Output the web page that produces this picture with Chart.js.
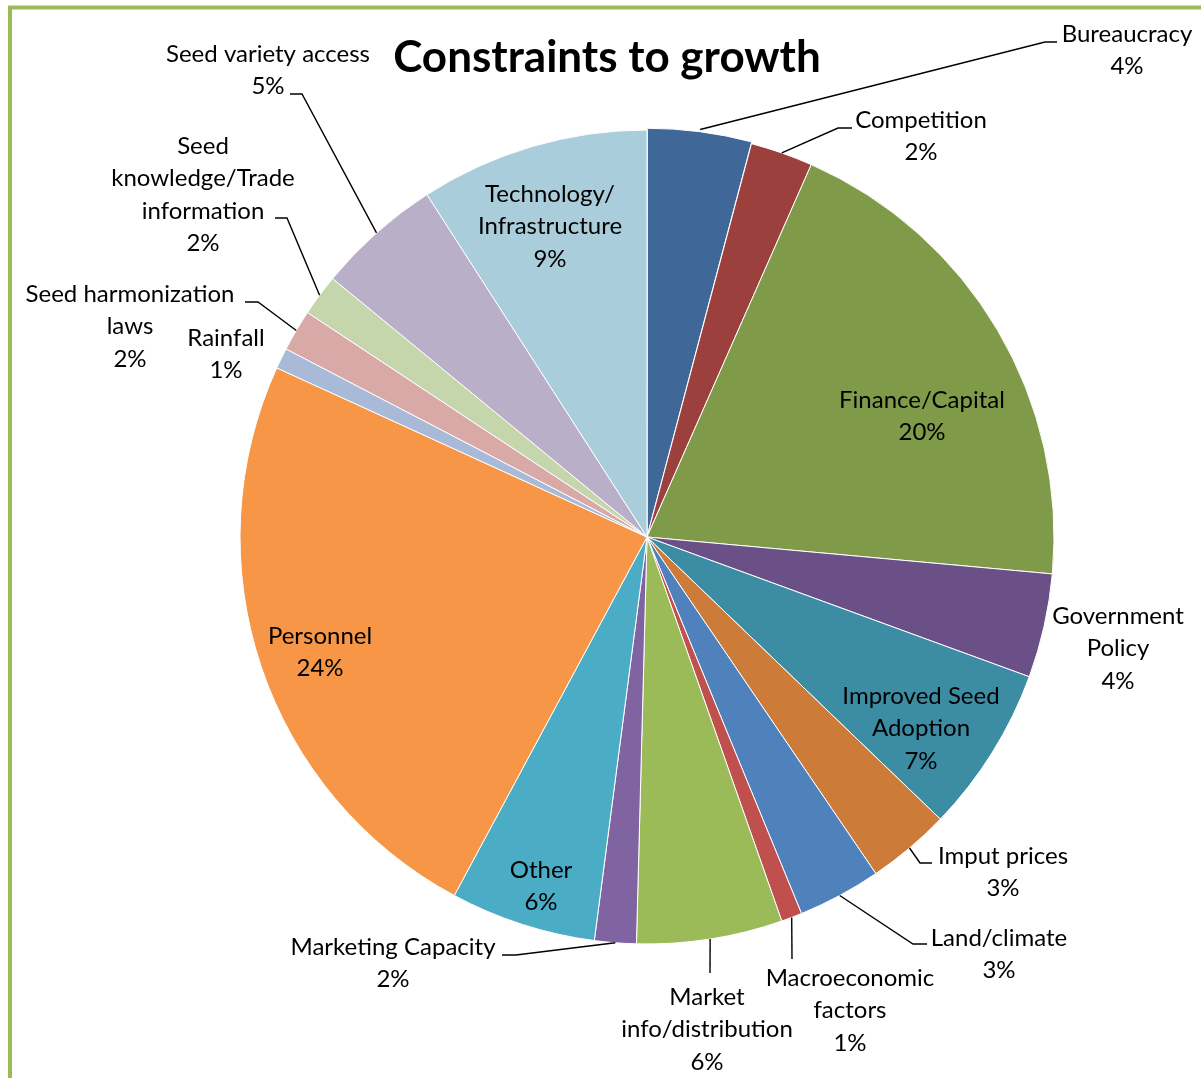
<!DOCTYPE html>
<html>
<head>
<meta charset="utf-8">
<script src="https://cdn.jsdelivr.net/npm/chart.js@4/dist/chart.umd.min.js"></script>
<style>
  html, body { margin: 0; padding: 0; background: #fff; }
  #wrap { width: 1201px; height: 1078px; position: relative; }
</style>
</head>
<body>
<div id="wrap"><canvas id="constraints"></canvas></div>
<script>
// survey answers, counted per constraint
const categories = ['Bureaucracy', 'Competition', 'Finance/Capital', 'Government Policy',
  'Improved Seed Adoption', 'Imput prices', 'Land/climate', 'Macroeconomic factors',
  'Market info/distribution', 'Marketing Capacity', 'Other', 'Personnel', 'Rainfall',
  'Seed harmonization laws', 'Seed knowledge/Trade information', 'Seed variety access',
  'Technology/ Infrastructure']
const counts = [5, 3, 24, 5, 8, 4, 4, 1, 7, 2, 7, 29, 1, 2, 2, 6, 11]

// how each label is wrapped on the chart
const labelLines = [
  ['Bureaucracy'], ['Competition'], ['Finance/Capital'], ['Government', 'Policy'],
  ['Improved Seed', 'Adoption'], ['Imput prices'], ['Land/climate'], ['Macroeconomic', 'factors'],
  ['Market', 'info/distribution'], ['Marketing Capacity'], ['Other'], ['Personnel'], ['Rainfall'],
  ['Seed harmonization', 'laws'], ['Seed', 'knowledge/Trade', 'information'], ['Seed variety access'],
  ['Technology/', 'Infrastructure']
]

const colors = ['#3F6898', '#9C403E', '#7F9A48', '#6A5086', '#3C8CA3', '#CC7B38', '#4F81BD',
  '#C0504D', '#9BBB59', '#8064A2', '#4BACC6', '#F79646', '#A9B9D8', '#D9A9A8', '#C6D6AC',
  '#B9AFC9', '#A9CDDB']

// label placement relative to the pie centre: [dx, dy of first line], leader bend points
const labelPlace = [
  { at: [480, -503], lead: [[398, -495], [410, -495]] },
  { at: [274, -417], lead: [[191, -409], [205, -409]] },
  { at: [275, -137] },
  { at: [471, 79] },
  { at: [274, 159] },
  { at: [356, 319], lead: [[273, 326], [285, 326]] },
  { at: [352, 401], lead: [[266, 407], [280, 407]] },
  { at: [203, 441], lead: [[145, 422]] },
  { at: [60, 460], lead: [[63, 436]] },
  { at: [-254, 410], lead: [[-131, 418], [-145, 418]] },
  { at: [-106, 333] },
  { at: [-327, 99] },
  { at: [-421, -199] },
  { at: [-517, -243], lead: [[-389, -235], [-402, -235]] },
  { at: [-444, -391], lead: [[-360, -319], [-372, -319]] },
  { at: [-379, -483], lead: [[-345, -443], [-357, -443]] },
  { at: [-97, -343] }
]

const labelFont = '24px Lato'
const lineGap = 32.5

const sliceLabels = {
  id: 'sliceLabels',
  beforeDraw(chart) {
    const ctx = chart.ctx
    ctx.save()
    ctx.fillStyle = '#fff'
    ctx.fillRect(0, 0, chart.width, chart.height)
    // green frame of the original figure
    ctx.strokeStyle = '#9BBB59'
    ctx.lineWidth = 4
    ctx.beginPath()
    ctx.moveTo(10, chart.height)
    ctx.lineTo(10, 7.5)
    ctx.lineTo(chart.width, 7.5)
    ctx.stroke()
    ctx.restore()
  },
  afterDraw(chart) {
    const ctx = chart.ctx
    const meta = chart.getDatasetMeta(0)
    const ds = chart.data.datasets[0]
    const total = ds.data.reduce((a, b) => a + b, 0)
    ctx.save()

    // title
    ctx.fillStyle = '#000'
    ctx.font = 'bold 44px Lato'
    ctx.textAlign = 'center'
    ctx.textBaseline = 'middle'
    ctx.fillText('Constraints to growth', 607, 58)

    meta.data.forEach((arc, i) => {
      const p = arc.getProps(['x', 'y', 'startAngle', 'endAngle', 'outerRadius'], true)
      const cx = p.x, cy = p.y
      const place = labelPlace[i]
      if (place.lead) {
        const mid = (p.startAngle + p.endAngle) / 2
        const r = p.outerRadius + (ds.offset[i] || 0)
        ctx.strokeStyle = '#000'
        ctx.lineWidth = 1.4
        ctx.beginPath()
        ctx.moveTo(cx + Math.cos(mid) * r, cy + Math.sin(mid) * r)
        place.lead.forEach(pt => ctx.lineTo(cx + pt[0], cy + pt[1]))
        ctx.stroke()
      }
      const lines = labelLines[i].concat([Math.round(ds.data[i] / total * 100) + '%'])
      ctx.fillStyle = '#000'
      ctx.font = labelFont
      lines.forEach((t, k) => {
        ctx.fillText(t, cx + place.at[0], cy + place.at[1] + k * lineGap)
      })
    })
    ctx.restore()
  }
}

new Chart(document.getElementById('constraints'), {
  type: 'pie',
  data: {
    labels: categories,
    datasets: [{
      data: counts,
      backgroundColor: colors,
      borderColor: '#ffffff',
      borderWidth: 1,
      offset: [4, 0, 0, 0, 0, 0, 0, 0, 0, 0, 0, 0, 0, 0, 0, 0, 0],
      hoverOffset: 0
    }]
  },
  options: {
    responsive: true,
    maintainAspectRatio: false,
    animation: false,
    radius: 407,
    layout: { padding: { left: 200, right: 107, top: 100, bottom: 104 } },
    plugins: {
      legend: { display: false },
      tooltip: { enabled: false },
      title: { display: false }
    }
  },
  plugins: [sliceLabels]
})
</script>
</body>
</html>
